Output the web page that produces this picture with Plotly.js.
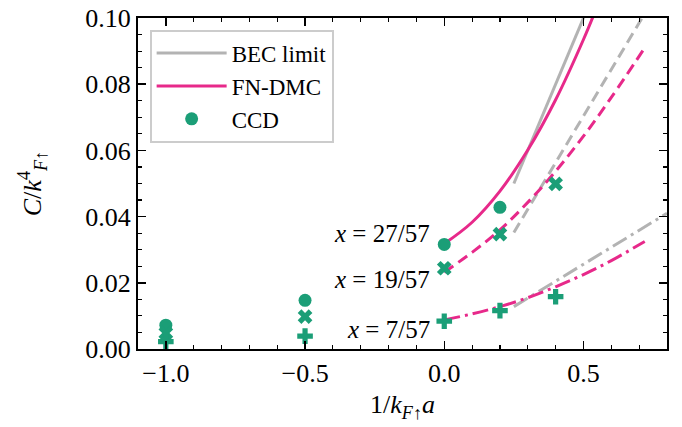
<!DOCTYPE html>
<html>
<head>
<meta charset="utf-8">
<script src="https://cdn.plot.ly/plotly-3.0.1.min.js"></script>
<style>html,body{margin:0;padding:0;background:#fff;}</style>
</head>
<body>
<div id="chart" style="width:682px;height:427px;"></div>
<script>
// CCD data (x = 1/k_F a)
const ccdX27 = [-1.0, -0.5, 0.0, 0.2];
const ccdY27 = [0.0072, 0.0147, 0.0316, 0.0428];
const ccdX19 = [-1.0, -0.5, 0.0, 0.2, 0.4];
const ccdY19 = [0.0048, 0.0098, 0.0244, 0.0347, 0.0499];
const ccdX7 = [-1.0, -0.5, 0.0, 0.2, 0.4];
const ccdY7 = [0.0022, 0.0039, 0.0084, 0.0116, 0.0158];

// FN-DMC curves
const dmcX27 = [0.0, 0.1, 0.2, 0.3, 0.4, 0.5, 0.55];
const dmcY27 = [0.0318, 0.0383, 0.0477, 0.0601, 0.0753, 0.0935, 0.1037];
const dmcX19 = [0.0, 0.1, 0.2, 0.3, 0.4, 0.5, 0.6, 0.72];
const dmcY19 = [0.0232, 0.0292, 0.0360, 0.0443, 0.0537, 0.0643, 0.0760, 0.0910];
const dmcX7 = [0.0, 0.1, 0.2, 0.3, 0.4, 0.5, 0.6, 0.72];
const dmcY7 = [0.0088, 0.0106, 0.0128, 0.0155, 0.0188, 0.0225, 0.0267, 0.0325];

// BEC limit lines
const becX = [0.25, 0.8];
const becY27 = [0.0500, 0.1600];
const becY19 = [0.0352, 0.1126];
const becY7 = [0.0128, 0.0410];

const labels = ["<i>x</i> = 27/57", "<i>x</i> = 19/57", "<i>x</i> = 7/57"];

const PINK = "#e7298a", GREEN = "#1b9e77", GRAY = "#b3b3b3";
const FONT = "Liberation Serif, Times New Roman, serif";

const traces = [
  {x: becX, y: becY27, mode: "lines", name: "BEC limit", legendrank: 1, line: {color: GRAY, width: 3}},
  {x: becX, y: becY19, mode: "lines", showlegend: false, line: {color: GRAY, width: 3, dash: "11px,6px"}},
  {x: becX, y: becY7, mode: "lines", showlegend: false, line: {color: GRAY, width: 3, dash: "16px,5px,3px,5px"}},
  {x: dmcX27, y: dmcY27, mode: "lines", name: "FN-DMC", legendrank: 2, line: {color: PINK, width: 3, shape: "spline"}},
  {x: dmcX19, y: dmcY19, mode: "lines", showlegend: false, line: {color: PINK, width: 3, shape: "spline", dash: "11px,6px"}},
  {x: dmcX7, y: dmcY7, mode: "lines", showlegend: false, line: {color: PINK, width: 3, shape: "spline", dash: "16px,5px,3px,5px"}},
  {x: ccdX27, y: ccdY27, mode: "markers", name: "CCD", legendrank: 3, marker: {color: GREEN, size: 13, symbol: "circle"}},
  {x: ccdX19, y: ccdY19, mode: "markers", showlegend: false, marker: {color: GREEN, size: 13, symbol: "x"}},
  {x: ccdX7, y: ccdY7, mode: "markers", showlegend: false, marker: {color: GREEN, size: 13, symbol: "cross"}}
];

const axisCommon = {
  showline: true, linecolor: "black", linewidth: 2, mirror: "allticks",
  ticks: "inside", ticklen: 8, tickwidth: 1.5, tickcolor: "black",
  showgrid: false, zeroline: false,
  tickfont: {family: FONT, size: 26, color: "black"}
};

const layout = {
  width: 682, height: 427,
  margin: {l: 138, r: 15, t: 18, b: 78},
  paper_bgcolor: "white", plot_bgcolor: "white",
  font: {family: FONT, color: "black"},
  showlegend: true,
  legend: {
    x: 0.022, y: 0.965, xanchor: "left", yanchor: "top",
    bgcolor: "white", bordercolor: "#cccccc", borderwidth: 2,
    itemwidth: 70,
    font: {family: FONT, size: 23, color: "black"}
  },
  xaxis: Object.assign({}, axisCommon, {
    range: [-1.1, 0.8], tick0: 0, dtick: 0.5, tickformat: ".1f",
    minor: {dtick: 0.1, ticks: "inside", ticklen: 4, tickwidth: 1.2, tickcolor: "black", showgrid: false},
    title: {text: "1/<i>k</i><sub><i>F</i>↑</sub><i>a</i>", font: {family: FONT, size: 26}, standoff: 8}
  }),
  yaxis: Object.assign({}, axisCommon, {
    range: [0, 0.1], tick0: 0, dtick: 0.02, tickformat: ".2f",
    minor: {dtick: 0.005, ticks: "inside", ticklen: 4, tickwidth: 1.2, tickcolor: "black", showgrid: false},
    title: {text: "<i>C</i>/<i>k</i><sup>4</sup><sub><i>F</i>↑</sub>", font: {family: FONT, size: 26}, standoff: 36}
  }),
  annotations: [
    {x: -0.045, y: 0.0348, xref: "x", yref: "y", text: labels[0], showarrow: false, xanchor: "right", yanchor: "middle", font: {family: FONT, size: 25}},
    {x: -0.045, y: 0.0211, xref: "x", yref: "y", text: labels[1], showarrow: false, xanchor: "right", yanchor: "middle", font: {family: FONT, size: 25}},
    {x: -0.045, y: 0.0058, xref: "x", yref: "y", text: labels[2], showarrow: false, xanchor: "right", yanchor: "middle", font: {family: FONT, size: 25}}
  ]
};

Plotly.newPlot("chart", traces, layout, {staticPlot: true, displayModeBar: false});
</script>
</body>
</html>
